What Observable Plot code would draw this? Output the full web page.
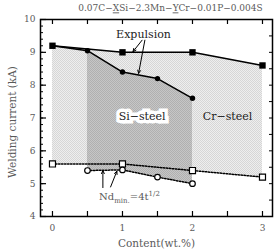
<!DOCTYPE html>
<html><head><meta charset="utf-8">
<script src="https://cdn.jsdelivr.net/npm/d3@7"></script>
<script src="https://cdn.jsdelivr.net/npm/@observablehq/plot@0.6"></script>
<style>
body{margin:0;background:#fff;}
svg text{font-family:"DejaVu Serif",serif;}
</style></head>
<body><div id="chart"></div>
<script>
const title = "0.07C-XSi-2.3Mn-YCr-0.01P-0.004S";
const crX = [0, 1, 2, 3];
const crExp = [9.2, 9.0, 9.0, 8.6];
const crNd = [5.6, 5.6, 5.4, 5.2];
const siX = [0.5, 1, 1.5, 2];
const siExp = [9.05, 8.4, 8.2, 7.6];
const siNd = [5.4, 5.42, 5.2, 5.0];
const siLineX = [0, 0.5, 1, 1.5, 2];
const siLineY = [9.2, 9.05, 8.4, 8.2, 7.6];
const xTicks = [0, 1, 2, 3];
const yTicks = [4, 5, 6, 7, 8, 9, 10];
const xMinor = [0, 0.5, 1, 1.5, 2, 2.5, 3];
const yMinor = d3.range(4, 10.001, 0.2).map(v => +v.toFixed(1));
const yMinorR = d3.range(4, 10.001, 0.5);
const labels = [
  {x: 1.3, y: 9.55, t: "Expulsion", bg: false},
  {x: 1.28, y: 7.04, t: "Si\u2212steel", bg: true},
  {x: 2.5, y: 7.04, t: "Cr\u2212steel", bg: false}
];
const arrows = [
  {x1: 1.28, y1: 9.37, x2: 1.15, y2: 9.02},
  {x1: 1.32, y1: 9.37, x2: 1.23, y2: 8.36},
  {x1: 0.72, y1: 4.88, x2: 0.72, y2: 5.4},
  {x1: 0.83, y1: 4.9, x2: 0.92, y2: 5.38}
];
const ndLabel = {x: 1.1, y: 4.6};

const crRows = crX.map((x, i) => ({x, hi: crExp[i], lo: crNd[i]}));
const siRows = siX.map((x, i) => ({x, hi: siExp[i], lo: siNd[i]}));
const siLine = siLineX.map((x, i) => ({x, y: siLineY[i]}));

const W = 278, H = 250, mL = 40, mR = 6, mT = 19, mB = 34;
const iw = W - mL - mR, ih = H - mT - mB;
const tk = 5, tkm = 3;
const grey = "#5a5a5a";
const FF = '"DejaVu Serif", serif';

const plot = Plot.plot({
  width: W, height: H,
  marginLeft: mL, marginRight: mR, marginTop: mT, marginBottom: mB,
  x: {domain: [-0.171, 3.143], label: null},
  y: {domain: [4, 10], label: null},
  style: {fontFamily: FF, background: "white"},
  marks: [
    Plot.areaY(crRows, {x: "x", y1: "lo", y2: "hi", fill: "#e3e3e3", className: "crArea"}),
    Plot.areaY(siRows, {x: "x", y1: "lo", y2: "hi", fill: "#bdbdbd", className: "siArea"}),
    Plot.frame({stroke: "black", strokeWidth: 1.5}),
    Plot.tickY(yMinor, {y: d => d, insetRight: iw - tkm, stroke: "black", strokeWidth: 1}),
    Plot.tickY(yTicks, {y: d => d, insetRight: iw - tk - 1, stroke: "black", strokeWidth: 1.2}),
    Plot.tickY(yMinorR, {y: d => d, insetLeft: iw - tkm, stroke: "black", strokeWidth: 1}),
    Plot.tickX(xMinor, {x: d => d, insetTop: ih - tk, stroke: "black", strokeWidth: 1.2}),
    Plot.tickX(xMinor, {x: d => d, insetBottom: ih - tk, stroke: "black", strokeWidth: 1.2}),
    Plot.axisX(xTicks, {tickSize: 0, tickPadding: 8, fontSize: 9, fill: grey, fontFamily: FF, tickFormat: d => d}),
    Plot.axisY(yTicks, {tickSize: 0, tickPadding: 5, fontSize: 9, fill: grey, fontFamily: FF, tickFormat: d => d}),
    Plot.line(crRows, {x: "x", y: "hi", stroke: "black", strokeWidth: 1.5}),
    Plot.line(siLine, {x: "x", y: "y", stroke: "black", strokeWidth: 1.5}),
    Plot.line(crRows, {x: "x", y: "lo", stroke: "black", strokeWidth: 1.5, strokeDasharray: "1.5,1.5"}),
    Plot.line(siRows, {x: "x", y: "lo", stroke: "black", strokeWidth: 1.5, strokeDasharray: "1.5,1.5"}),
    Plot.dot(crRows, {x: "x", y: "hi", symbol: "square", r: 3.6, fill: "black", stroke: "none"}),
    Plot.dot(siRows, {x: "x", y: "hi", symbol: "circle", r: 2.7, fill: "black", stroke: "none"}),
    Plot.dot(crRows, {x: "x", y: "lo", symbol: "square", r: 3.4, fill: "white", stroke: "black", strokeWidth: 1.2}),
    Plot.dot(siRows, {x: "x", y: "lo", symbol: "circle", r: 2.8, fill: "white", stroke: "black", strokeWidth: 1.2}),
    Plot.arrow(arrows, {x1: "x1", y1: "y1", x2: "x2", y2: "y2", stroke: "black", strokeWidth: 1, headLength: 5, headAngle: 50}),
    Plot.text(labels.filter(d => d.bg), {x: "x", y: "y", text: "t", fontSize: 11, fontFamily: FF, fill: "white", stroke: "white", strokeWidth: 7, strokeLinejoin: "miter"}),
    Plot.text(labels, {x: "x", y: "y", text: "t", fontSize: 11, fontFamily: FF, fill: "#222"}),
    Plot.text([ndLabel], {x: "x", y: "y", text: () => "Nd", fontSize: 10, fontFamily: FF, fill: grey, className: "ndlabel"}),
    Plot.text([title], {frameAnchor: "top", textAnchor: "middle", lineAnchor: "middle", dy: -11, dx: 14, text: d => d, fontSize: 9, fontFamily: FF, fill: grey, className: "ttl"}),
    Plot.text(["Welding current (kA)"], {frameAnchor: "left", textAnchor: "middle", lineAnchor: "middle", dx: -28, dy: 4, rotate: -90, text: d => d, fontSize: 10.5, fontFamily: FF, fill: grey}),
    Plot.text(["Content(wt.%)"], {frameAnchor: "bottom", textAnchor: "middle", lineAnchor: "middle", dy: 27, text: d => d, fontSize: 10.5, fontFamily: FF, fill: grey})
  ]
});
document.getElementById("chart").append(plot);

const svg = d3.select(plot);
const defs = svg.insert("defs", ":first-child");
function checker(id, a, b) {
  const p = defs.append("pattern").attr("id", id).attr("width", 2).attr("height", 2).attr("patternUnits", "userSpaceOnUse");
  p.append("rect").attr("width", 2).attr("height", 2).attr("fill", a);
  p.append("rect").attr("width", 1).attr("height", 1).attr("fill", b);
  p.append("rect").attr("x", 1).attr("y", 1).attr("width", 1).attr("height", 1).attr("fill", b);
}
checker("pCr", "#eeeeee", "#d6d6d6");
checker("pSi", "#c6c6c6", "#b0b0b0");
svg.selectAll(".crArea path").attr("fill", "url(#pCr)");
svg.selectAll(".siArea path").attr("fill", "url(#pSi)");

svg.selectAll(".ttl text").each(function() {
  const t = d3.select(this); t.text("");
  const parts = [["0.07C\u2212",0],["X",1],["Si\u22122.3Mn\u2212",0],["Y",1],["Cr\u22120.01P\u22120.004S",0]];
  parts.forEach(([s,u]) => { const ts = t.append("tspan").text(s); if (u) ts.attr("text-decoration","underline"); });
});
svg.selectAll(".ndlabel text").each(function() {
  const t = d3.select(this); t.text("");
  t.append("tspan").text("Nd");
  t.append("tspan").text("min.").attr("font-size", 7).attr("dy", 3);
  t.append("tspan").text("=4t").attr("dy", -3);
  t.append("tspan").text("1/2").attr("font-size", 7).attr("dy", -4);
});
</script></body></html>
